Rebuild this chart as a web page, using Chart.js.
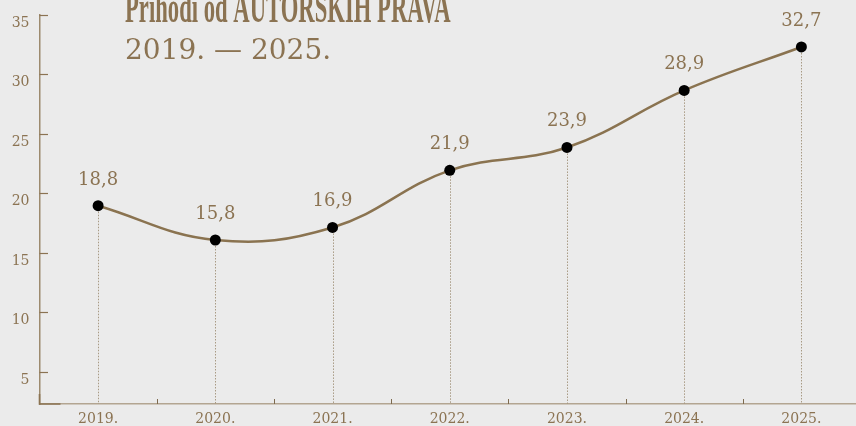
<!DOCTYPE html>
<html>
<head>
<meta charset="utf-8">
<script src="https://cdn.jsdelivr.net/npm/chart.js@4.4.1/dist/chart.umd.min.js"></script>
<style>
  html, body { margin: 0; padding: 0; background: #ebebeb; overflow: hidden; }
  canvas { display: block; }
</style>
</head>
<body>
<canvas id="chart" width="860" height="426"></canvas>
<script>
const years = ['2019.', '2020.', '2021.', '2022.', '2023.', '2024.', '2025.'];
const income = [18.8, 15.8, 16.9, 21.9, 23.9, 28.9, 32.7];
const yTicks = [5, 10, 15, 20, 25, 30, 35];
const titleLines = ['Prihodi od AUTORSKIH PRAVA', '2019. \u2014 2025.'];

const brown = '#8b7352';
const serif = "'DejaVu Serif', serif";

const decorations = {
    id: 'decorations',
    beforeDatasetsDraw(chart) {
        const { ctx, chartArea, scales } = chart;
        const x = scales.x, y = scales.y;
        const meta = chart.getDatasetMeta(0);
        ctx.save();

        // dotted drops from each point
        ctx.strokeStyle = '#a89a84';
        ctx.lineWidth = 1;
        ctx.setLineDash([1.5, 1.5]);
        meta.data.forEach(pt => {
            ctx.beginPath();
            ctx.moveTo(Math.round(pt.x) + 0.5, pt.y);
            ctx.lineTo(Math.round(pt.x) + 0.5, chartArea.bottom);
            ctx.stroke();
        });
        ctx.setLineDash([]);

        // inward ticks on the y axis
        ctx.strokeStyle = brown;
        ctx.lineWidth = 1.2;
        yTicks.forEach(v => {
            const py = Math.round(y.getPixelForValue(v)) + 0.5;
            ctx.beginPath();
            ctx.moveTo(chartArea.left, py);
            ctx.lineTo(chartArea.left + 8.5, py);
            ctx.stroke();
        });

        // small upward ticks between categories
        ctx.strokeStyle = '#7d6a4e';
        ctx.lineWidth = 1;
        for (let i = 0; i < years.length - 1; i++) {
            const px = Math.round((x.getPixelForValue(i) + x.getPixelForValue(i + 1)) / 2) + 0.5;
            ctx.beginPath();
            ctx.moveTo(px, chartArea.bottom);
            ctx.lineTo(px, chartArea.bottom - 5);
            ctx.stroke();
        }

        // darker corner segment
        ctx.strokeStyle = '#8b7352';
        ctx.lineWidth = 1.6;
        ctx.beginPath();
        ctx.moveTo(chartArea.left, chartArea.bottom - 10);
        ctx.lineTo(chartArea.left, chartArea.bottom);
        ctx.lineTo(chartArea.left + 21, chartArea.bottom);
        ctx.stroke();

        ctx.restore();
    },
    afterDatasetsDraw(chart) {
        const { ctx } = chart;
        const meta = chart.getDatasetMeta(0);
        ctx.save();
        ctx.fillStyle = brown;
        ctx.font = '18px ' + serif;
        ctx.textAlign = 'center';
        ctx.textBaseline = 'alphabetic';
        meta.data.forEach((pt, i) => {
            ctx.fillText(income[i].toFixed(1).replace('.', ','), pt.x, pt.y - 21);
        });

        // title
        ctx.textAlign = 'left';
        ctx.save();
        ctx.translate(125, 22);
        ctx.scale(0.515, 1);
        ctx.font = "bold 44px 'Liberation Serif', serif";
        ctx.fillText(titleLines[0], 0, 0);
        ctx.restore();
        ctx.font = '28px ' + serif;
        ctx.fillText(titleLines[1], 125, 59);
        ctx.restore();
    }
};

new Chart(document.getElementById('chart'), {
    type: 'line',
    data: {
        labels: years,
        datasets: [{
            data: income,
            yAxisID: 'yData',
            borderColor: '#8a7350',
            borderWidth: 2.5,
            tension: 0.4,
            pointRadius: 5.5,
            pointHoverRadius: 5.5,
            pointBackgroundColor: '#000',
            pointBorderWidth: 0,
            fill: false
        }]
    },
    options: {
        responsive: false,
        animation: false,
        layout: { autoPadding: false, padding: { top: 15, left: 0, right: 0, bottom: 0 } },
        plugins: {
            legend: { display: false },
            tooltip: { enabled: false }
        },
        scales: {
            x: {
                type: 'category',
                offset: true,
                grid: { display: false, drawTicks: false },
                border: { display: true, color: '#b3a591', width: 1.5 },
                ticks: { color: brown, font: { family: serif, size: 14 }, padding: 7 },
                afterFit(scale) {
                    scale.height = 22;
                    scale.paddingLeft = 0;
                    scale.paddingRight = 0;
                }
            },
            y: {
                min: 2.3,
                max: 35,
                grid: { display: false, drawTicks: false },
                border: { display: true, color: '#9c8a6e', width: 1.5 },
                ticks: {
                    stepSize: 5,
                    includeBounds: false,
                    color: brown,
                    font: { family: serif, size: 14 },
                    padding: 10,
                    labelOffset: 8
                },
                afterBuildTicks(scale) {
                    scale.ticks = yTicks.map(v => ({ value: v }));
                },
                afterFit(scale) {
                    scale.width = 39.5;
                    scale.paddingTop = 0;
                    scale.paddingBottom = 0;
                }
            },
            yData: {
                display: false,
                min: 1.44,
                max: 35.5
            }
        }
    },
    plugins: [decorations]
});
</script>
</body>
</html>
